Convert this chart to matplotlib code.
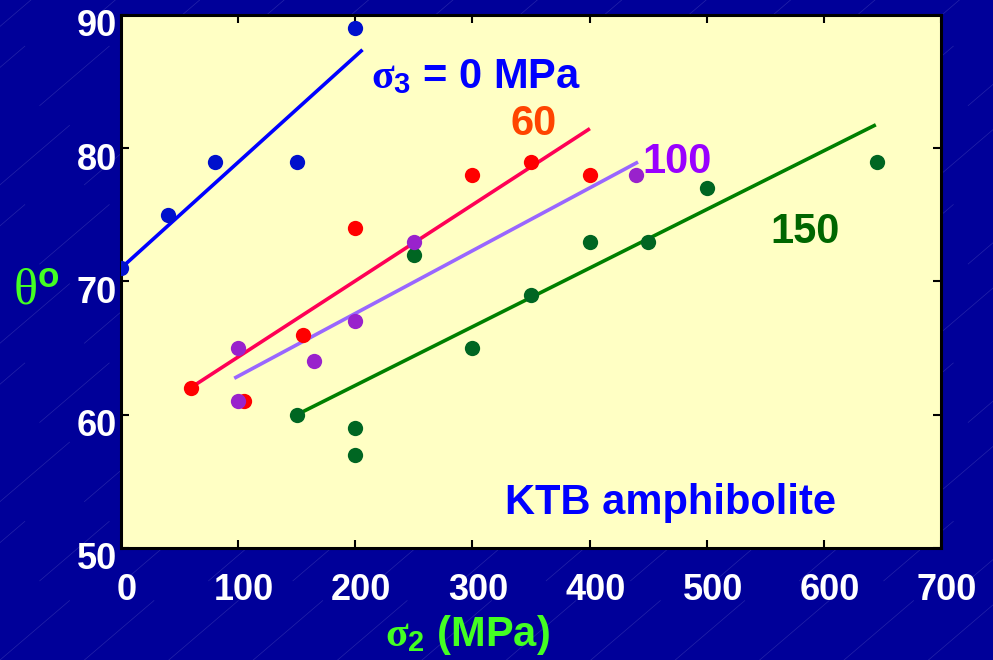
import numpy as np
import matplotlib
matplotlib.use('Agg')
import matplotlib.pyplot as plt
from matplotlib.lines import Line2D
from matplotlib.transforms import ScaledTranslation

# sigma3 = 0 MPa
s0_x = [0, 40, 80, 150, 200]
s0_y = [71, 75, 79, 79, 89]
s0_fit_x = [0, 205]
s0_fit_y = [71.0, 87.3]

# sigma3 = 60 MPa
s60_x = [60, 105, 155, 200, 300, 350, 400]
s60_y = [62, 61, 66, 74, 78, 79, 78]
s60_fit_x = [59, 399]
s60_fit_y = [62.0, 81.4]

# sigma3 = 100 MPa
s100_x = [100, 100, 165, 200, 250, 440]
s100_y = [65, 61, 64, 67, 73, 78]
s100_fit_x = [98, 440]
s100_fit_y = [62.8, 78.9]

# sigma3 = 150 MPa
s150_x = [150, 200, 200, 250, 300, 350, 400, 450, 500, 645]
s150_y = [60, 59, 57, 72, 65, 69, 73, 73, 77, 79]
s150_fit_x = [150, 643]
s150_fit_y = [60.0, 81.7]

xticks = [0, 100, 200, 300, 400, 500, 600, 700]
yticks = [50, 60, 70, 80, 90]

plt.rcParams['font.family'] = ['Liberation Sans', 'DejaVu Sans']
plt.rcParams['mathtext.fontset'] = 'custom'
plt.rcParams['mathtext.rm'] = 'Liberation Serif'
plt.rcParams['mathtext.it'] = 'Liberation Serif:italic'
plt.rcParams['mathtext.bf'] = 'Liberation Sans:bold'
plt.rcParams['mathtext.sf'] = 'Liberation Serif:bold'

fig = plt.figure(figsize=(9.93, 6.6), dpi=100)
fig.patch.set_facecolor('#000099')

# faint diagonal streaks of the slide background
for i in range(-2, 14):
    for j in range(0, 9):
        x0 = i * 0.085 + (j % 2) * 0.04
        y0 = j * 0.12
        fig.add_artist(Line2D([x0, x0 + 0.07], [y0, y0 + 0.09], color='#7777cc',
                              lw=0.5, alpha=0.3, zorder=0))

ax = fig.add_axes([0.1219, 0.1697, 0.8257, 0.8076])
ax.set_facecolor('#ffffc4')

ax.plot(s0_fit_x, s0_fit_y, color='#0000ff', lw=2.6, zorder=2)
ax.plot(s60_fit_x, s60_fit_y, color='#ff0055', lw=2.6, zorder=2)
ax.plot(s100_fit_x, s100_fit_y, color='#9966ff', lw=2.6, zorder=2)
ax.plot(s150_fit_x, s150_fit_y, color='#008000', lw=2.6, zorder=2)

ax.plot(s0_x, s0_y, 'o', color='#0010cc', ms=11, mec='none', zorder=3)
ax.plot(s60_x, s60_y, 'o', color='#ff0000', ms=11, mec='none', zorder=3)
ax.plot(s100_x, s100_y, 'o', color='#9922cc', ms=11, mec='none', zorder=4)
ax.plot(s150_x, s150_y, 'o', color='#006622', ms=11, mec='none', zorder=3)

ax.text(213, 85.3, r'$\mathsf{\sigma}_\mathbf{3}$ = 0 MPa', color='#0000ff', fontsize=30,
        fontweight='bold', va='center', ha='left')
ax.text(352, 81.8, '60', color='#ff4400', fontsize=30, fontweight='bold',
        ha='center', va='center')
ax.text(475, 79.0, '100', color='#9900ff', fontsize=30, fontweight='bold',
        ha='center', va='center')
ax.text(584, 73.7, '150', color='#006600', fontsize=30, fontweight='bold',
        ha='center', va='center')
ax.text(469, 53.4, 'KTB amphibolite', color='#0000ff', fontsize=30,
        fontweight='bold', ha='center', va='center')

ax.set_xlim(0, 700)
ax.set_ylim(50, 90)
ax.set_xticks(xticks)
ax.set_yticks(yticks)
ax.tick_params(direction='in', length=6, width=1.5, top=True, right=True,
               colors='black', labelcolor='white', labelsize=26)
ax.tick_params(axis='x', pad=18)
ax.tick_params(axis='y', pad=3)
for lab in ax.get_xticklabels() + ax.get_yticklabels():
    lab.set_fontweight('bold')
for lab in ax.get_xticklabels():
    lab.set_transform(lab.get_transform() + ScaledTranslation(0.06, 0, fig.dpi_scale_trans))
for lab in ax.get_yticklabels():
    lab.set_transform(lab.get_transform() + ScaledTranslation(0, -0.08, fig.dpi_scale_trans))
for sp in ax.spines.values():
    sp.set_linewidth(2.2)
    sp.set_color('black')

fig.text(0.471, 0.038, r'$\mathsf{\sigma}_\mathbf{2}$ (MPa)', color='#44ff22', fontsize=30,
         fontweight='bold', ha='center', va='center')
fig.text(0.036, 0.56, r'$\mathrm{\theta}^{\mathbf{o}}$', color='#44ff22', fontsize=36,
         ha='center', va='center')

plt.savefig('out.png', dpi=100, facecolor=fig.get_facecolor())
